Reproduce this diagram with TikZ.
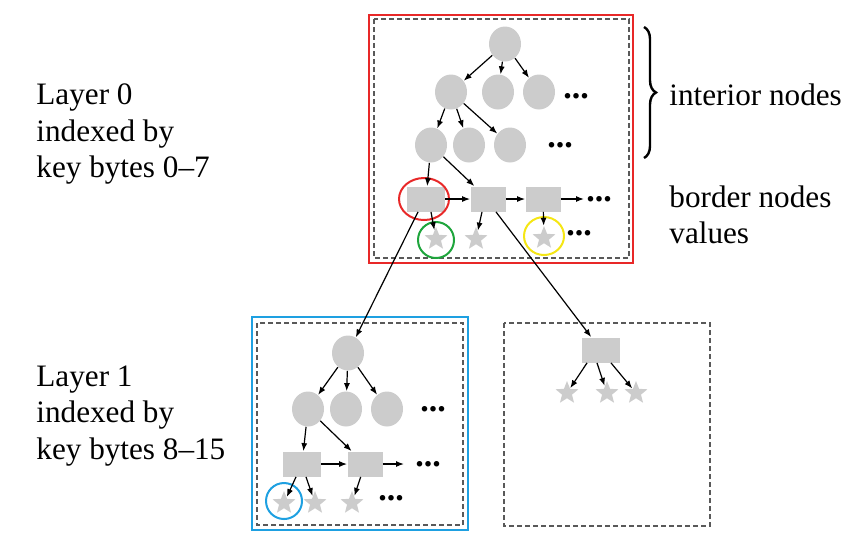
\documentclass[tikz,border=0pt]{standalone}
\usepackage{fontspec}
\setmainfont{Liberation Serif}
\usetikzlibrary{shapes.geometric,arrows.meta,decorations.pathreplacing}
\definecolor{ringred}{RGB}{232,40,40}
\definecolor{ringblue}{RGB}{30,160,225}
\definecolor{ringgreen}{RGB}{30,165,60}
\definecolor{ringyellow}{RGB}{245,230,20}
\begin{document}
\begin{tikzpicture}[x=0.5pt,y=-0.5pt,
    inode/.style={ellipse,fill=gray!40,minimum width=16pt,minimum height=17.5pt,inner sep=0pt},
    bnode/.style={rectangle,fill=gray!40,minimum width=17.5pt,minimum height=12.5pt,inner sep=0pt},
    vnode/.style={star,star points=5,star point ratio=2.3,fill=gray!40,minimum size=12pt,inner sep=0pt},
    more/.style={font=\fontsize{17}{18}\selectfont\bfseries,inner sep=0pt},
    lbl/.style={font=\fontsize{15.6}{18.25}\selectfont,align=left,inner sep=0pt},
    arr/.style={-{Latex[length=4pt,width=3pt]},line width=0.6pt},
    layerbox/.style={dashed,dash pattern=on 2.5pt off 1.5pt,draw=black!65,line width=0.6pt},
    ring/.style={draw,line width=1pt,fill=none}]
        \useasboundingbox (0,0) rectangle (865,538);
        \draw[ringred,line width=1pt] (369,15) rectangle (633,263);
        \draw[layerbox] (374,19) rectangle (629,258);
        \draw[ringblue,line width=1pt] (252,317) rectangle (468,530);
        \draw[layerbox] (257,323) rectangle (463,525);
        \draw[layerbox] (504,323) rectangle (710,526);
        \node[lbl,anchor=west] (lay0) at (36,134) {Layer 0\\indexed by\\key bytes 0--7};
        \node[lbl,anchor=west] (lay1) at (36,416) {Layer 1\\indexed by\\key bytes 8--15};
        \node[lbl,anchor=west] (inner) at (669,95) {interior nodes};
        \node[lbl,anchor=west] (border) at (669,215) {border nodes\\values};
        \draw[decorate,decoration={brace,amplitude=6pt},line width=1.2pt] (644,27) -- (644,158);
        \node[inode] (t0c0) at (505,44) {};
        \node[inode] (t0c1) at (451,92) {};
        \node[inode] (t0c2) at (498,92) {};
        \node[inode] (t0c3) at (539,92) {};
        \node[more] (t0d1) at (576,96) {...};
        \node[inode] (t0c4) at (431,145) {};
        \node[inode] (t0c5) at (469,145) {};
        \node[inode] (t0c6) at (510,145) {};
        \node[more] (t0d2) at (560,145) {...};
        \node[bnode,minimum width=19pt] (t0b1) at (426,199) {};
        \node[bnode] (t0b2) at (488,199) {};
        \node[bnode] (t0b3) at (543,199) {};
        \coordinate (t0e) at (584,199);
        \node[more] (t0d3) at (599,199) {...};
        \node[vnode] (t0v1) at (436,239) {};
        \node[vnode] (t0v2) at (476,239) {};
        \node[vnode] (t0v3) at (544,238) {};
        \node[more] (t0d4) at (579,233) {...};
        \node[ring,ringred,ellipse,minimum width=25pt,minimum height=21pt] (t0r1) at (424,199) {};
        \node[ring,ringgreen,circle,minimum size=18pt] (t0r2) at (436,240) {};
        \node[ring,ringyellow,ellipse,minimum width=20pt,minimum height=19pt] (t0r3) at (544,236) {};
        \draw[arr] (t0c0) -- (t0c1);
        \draw[arr] (t0c0) -- (t0c2);
        \draw[arr] (t0c0) -- (t0c3);
        \draw[arr] (t0c1) -- (t0c4);
        \draw[arr] (t0c1) -- (t0c5);
        \draw[arr] (t0c1) -- (t0c6);
        \draw[arr] (t0c4) -- (t0b1);
        \draw[arr] (t0c4) -- (t0b2);
        \draw[arr] (t0b1) -- (t0b2);
        \draw[arr] (t0b2) -- (t0b3);
        \draw[arr] (t0b3) -- (t0e);
        \draw[arr] ([xshift=2.5pt]t0b1.south) -- (t0v1);
        \draw[arr] ([xshift=-3pt]t0b2.south) -- (t0v2);
        \draw[arr] (t0b3) -- (t0v3);
        \node[inode] (l1c0) at (348,353) {};
        \node[inode] (l1c1) at (308,409) {};
        \node[inode] (l1c2) at (346,409) {};
        \node[inode] (l1c3) at (387,409) {};
        \node[more] (l1d1) at (433,409) {...};
        \node[bnode,minimum width=19pt] (l1b1) at (302,464) {};
        \node[bnode] (l1b2) at (365,464) {};
        \coordinate (l1e) at (404,464);
        \node[more] (l1d2) at (428,464) {...};
        \node[vnode] (l1v1) at (284,503) {};
        \node[vnode] (l1v2) at (315,503) {};
        \node[vnode] (l1v3) at (352,503) {};
        \node[more] (l1d3) at (391,498) {...};
        \node[ring,ringblue,circle,minimum size=18pt] (l1r1) at (284,501) {};
        \draw[arr] (l1c0) -- (l1c1);
        \draw[arr] (l1c0) -- (l1c2);
        \draw[arr] (l1c0) -- (l1c3);
        \draw[arr] (l1c1) -- (l1b1);
        \draw[arr] (l1c1) -- (l1b2);
        \draw[arr] (l1b1) -- (l1b2);
        \draw[arr] (l1b2) -- (l1e);
        \draw[arr] ([xshift=-3pt]l1b1.south) -- (l1v1);
        \draw[arr] ([xshift=2pt]l1b1.south) -- (l1v2);
        \draw[arr] (l1b2) -- (l1v3);
        \node[bnode,minimum width=19pt] (rb) at (601,350) {};
        \node[vnode] (rv1) at (567,393) {};
        \node[vnode] (rv2) at (607,393) {};
        \node[vnode] (rv3) at (636,393) {};
        \draw[arr] ([xshift=-7pt]rb.south) -- (rv1);
        \draw[arr] ([xshift=-2pt]rb.south) -- (rv2);
        \draw[arr] ([xshift=5pt]rb.south) -- (rv3);
        \draw[arr] ([xshift=-4pt]t0b1.south) -- (l1c0);
        \draw[arr] ([xshift=4pt]t0b2.south) -- (rb);
\end{tikzpicture}
\end{document}
